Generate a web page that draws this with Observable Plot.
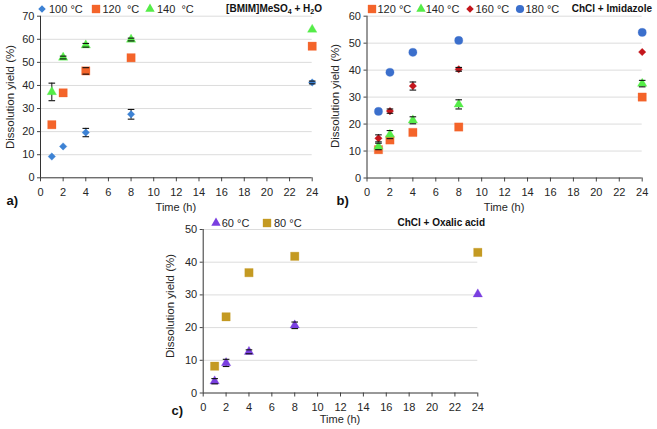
<!DOCTYPE html>
<html><head><meta charset="utf-8">
<script src="https://cdn.jsdelivr.net/npm/d3@7"></script>
<script src="https://cdn.jsdelivr.net/npm/@observablehq/plot@0.6"></script>
<style>
body{margin:0;background:#fff;}
#wrap{position:relative;width:657px;height:429px;font-family:"Liberation Sans",Arial,sans-serif;color:#262626;overflow:hidden;background:#fff}
#wrap div{position:absolute;white-space:nowrap}
.leg{font-size:11px;line-height:14px}
.ttl{font-size:10px;font-weight:bold;line-height:14px;color:#111}
.xl{font-size:11px;line-height:11px;transform:translateX(-50%)}
.yl{font-size:11.5px;line-height:13px;transform:translate(-50%,-50%) rotate(-90deg)}
.pl{font-size:13px;font-weight:bold;line-height:15px;color:#111}
sub{font-size:7px;vertical-align:-2px;line-height:0}
</style></head><body><div id="wrap"></div>
<script>
// ---------- data ----------
const hours = [1, 2, 4, 8, 24];
const xTickValues = [0, 2, 4, 6, 8, 10, 12, 14, 16, 18, 20, 22, 24];

// a) [BMIM]MeSO4 + H2O
const aLabels = ["100 °C", "120\u00a0\u00a0°C", "140\u00a0\u00a0°C"];
const aY100 = [9.2, 13.6, 19.6, 27.5, 41.3];
const aE100 = [0, 0, 1.8, 2.1, 0.6];
const aY120 = [23.0, 36.8, 46.3, 52.0, 57.0];
const aE120 = [0, 0, 1.4, 0, 0];
const aY140 = [37.2, 52.1, 57.4, 59.9, 64.2];
const aE140 = [3.8, 0.6, 0.8, 0.6, 0];
const aYTicks = [0, 10, 20, 30, 40, 50, 60, 70];

// b) ChCl + Imidazole
const bLabels = ["120 °C", "140 °C", "160 °C", "180 °C"];
const bY120 = [10.5, 14.1, 16.9, 18.9, 30.0];
const bE120 = [0, 0, 0, 0, 0];
const bY140 = [11.7, 16.1, 21.4, 27.3, 35.0];
const bE140 = [1.2, 1.5, 1.3, 1.7, 1.2];
const bY160 = [14.7, 24.8, 34.1, 40.3, 46.7];
const bE160 = [1.3, 0.8, 1.5, 0.7, 0];
const bY180 = [24.7, 39.2, 46.6, 51.0, 54.0];
const bE180 = [0, 0, 0, 0, 0];
const bYTicks = [0, 10, 20, 30, 40, 50, 60];

// c) ChCl + Oxalic acid
const cLabels = ["60 °C", "80 °C"];
const cY60 = [3.6, 9.2, 12.6, 20.7, 30.2];
const cE60 = [0.8, 1.1, 0.6, 1.0, 0];
const cY80 = [8.2, 23.3, 36.8, 41.8, 43.0];
const cE80 = [0, 0, 0, 0, 0];
const cYTicks = [0, 10, 20, 30, 40, 50];

// ---------- styles ----------
const C = {blue:"#3d82d4", orange:"#f4642a", green:"#55ec48", red:"#c4161c", navy:"#3b6fcc", purple:"#7a3fe0", gold:"#c49a22"};
const S = {diamond:{sym:"diamond2", r:3.4}, square:{sym:"square", r:4.7}, triangle:{sym:"triangle", r:3.5}, circle:{sym:"circle", r:4.1}};
const d3sym = {diamond2:d3.symbolDiamond2, square:d3.symbolSquare, triangle:d3.symbolTriangle, circle:d3.symbolCircle};
const cap = {draw(ctx, size){const r = Math.sqrt(size/Math.PI); ctx.moveTo(-r,0); ctx.lineTo(r,0);}};

const wrap = document.getElementById("wrap");

function rowsOf(series){
  return series.map(s => hours.map((t,i) => ({t, v:s.values[i], e:s.errs[i], key:s.label})));
}

function panel(cfg){
  const data = rowsOf(cfg.series);
  const errs = data.flat().filter(d => d.e > 0);
  const marks = [
    Plot.gridY({ticks: cfg.yTicks.filter(v => v > 0), stroke:"#dcdcdc", strokeOpacity:1}),
    Plot.axisY({ticks: cfg.yTicks, tickSize:3, tickPadding:3, label:null, stroke:"#444", fontSize:11}),
    Plot.axisX({ticks: xTickValues, tickSize:4, tickPadding:6.5, label:null, stroke:"#444", fontSize:11}),
    Plot.ruleX([0], {stroke:"#333"}),
    Plot.ruleY([0], {stroke:"#333"}),
    Plot.ruleX(errs, {x:"t", y1:d => d.v - d.e, y2:d => d.v + d.e, stroke:"#111", strokeWidth:1}),
    ...cfg.series.map((s,k) => Plot.dot(data[k], {x:"t", y:"v", symbol:S[s.shape].sym, r:S[s.shape].r, fill:s.color, stroke:s.color, strokeOpacity:0.35, strokeWidth:0.8})),
    Plot.dot(errs, {x:"t", y:d => d.v - d.e, symbol:cap, r:3.3, stroke:"#111", strokeWidth:1.1}),
    Plot.dot(errs, {x:"t", y:d => d.v + d.e, symbol:cap, r:3.3, stroke:"#111", strokeWidth:1.1})
  ];
  const svg = Plot.plot({
    width: cfg.w, height: cfg.h,
    marginLeft: cfg.mL, marginRight: cfg.mR, marginTop: cfg.mT, marginBottom: cfg.mB,
    x: {domain:[0,24]},
    y: {domain:[0, cfg.yTicks[cfg.yTicks.length-1]]},
    style: {fontFamily:'"Liberation Sans", Arial, sans-serif', fontSize:"11px", color:"#262626", background:"transparent", overflow:"visible"},
    marks
  });
  svg.style.position = "absolute";
  svg.style.left = cfg.left + "px";
  svg.style.top = cfg.top + "px";
  wrap.append(svg);

  // legend (layout positions only)
  cfg.series.forEach((s,k) => {
    const g = document.createElementNS("http://www.w3.org/2000/svg","svg");
    g.setAttribute("width",12); g.setAttribute("height",12);
    const p = document.createElementNS("http://www.w3.org/2000/svg","path");
    const sh = S[s.shape];
    p.setAttribute("d", d3.symbol(d3sym[sh.sym], sh.r*sh.r*Math.PI)());
    p.setAttribute("transform","translate(6,6)");
    p.setAttribute("fill", s.color);
    g.append(p);
    const gd = document.createElement("div");
    gd.style.left = (cfg.legX[k][0] - 6) + "px"; gd.style.top = (cfg.legY - 6) + "px";
    gd.style.lineHeight = "0";
    gd.append(g); wrap.append(gd);
    const td = document.createElement("div");
    td.className = "leg"; td.textContent = s.label;
    td.style.left = cfg.legX[k][1] + "px"; td.style.top = (cfg.legY - 7) + "px";
    wrap.append(td);
  });
  const t = document.createElement("div");
  t.className = "ttl"; t.innerHTML = cfg.title;
  t.style.right = (657 - cfg.titleRight) + "px"; t.style.top = (cfg.legY - 7) + "px";
  wrap.append(t);

  const xl = document.createElement("div");
  xl.className = "xl"; xl.textContent = "Time (h)";
  xl.style.left = (cfg.left + cfg.mL + (cfg.w - cfg.mL - cfg.mR)/2) + "px";
  xl.style.top = cfg.xlTop + "px";
  wrap.append(xl);

  const yl = document.createElement("div");
  yl.className = "yl"; yl.textContent = "Dissolution yield (%)";
  yl.style.left = cfg.ylX + "px"; yl.style.top = cfg.ylY + "px";
  wrap.append(yl);

  const pl = document.createElement("div");
  pl.className = "pl"; pl.textContent = cfg.tag;
  pl.style.left = cfg.tagX + "px"; pl.style.top = cfg.tagY + "px";
  wrap.append(pl);
}

panel({
  left:0, top:0, w:330, h:215, mL:40, mR:18.3, mT:15.7, mB:37.7,
  yTicks:aYTicks,
  series:[
    {label:aLabels[0], values:aY100, errs:aE100, color:C.blue, shape:"diamond"},
    {label:aLabels[1], values:aY120, errs:aE120, color:C.orange, shape:"square"},
    {label:aLabels[2], values:aY140, errs:aE140, color:C.green, shape:"triangle"}
  ],
  legY:9, legX:[[42,49],[96,102.5],[150,157]],
  title:"[BMIM]MeSO<sub>4</sub> + H<sub>2</sub>O", titleRight:322,
  xlTop:201.5, ylX:9.5, ylY:97, tag:"a)", tagX:6.5, tagY:193
});

panel({
  left:330, top:0, w:327, h:215, mL:36.5, mR:15.3, mT:15.7, mB:37.5,
  yTicks:bYTicks,
  series:[
    {label:bLabels[0], values:bY120, errs:bE120, color:C.orange, shape:"square"},
    {label:bLabels[1], values:bY140, errs:bE140, color:C.green, shape:"triangle"},
    {label:bLabels[2], values:bY160, errs:bE160, color:C.red, shape:"diamond"},
    {label:bLabels[3], values:bY180, errs:bE180, color:C.navy, shape:"circle"}
  ],
  legY:9, legX:[[372.3,377.5],[420.7,425.7],[470,475.5],[520,525.5]],
  title:"ChCl + Imidazole", titleRight:652,
  xlTop:201.5, ylX:335, ylY:96, tag:"b)", tagX:336.5, tagY:193
});

panel({
  left:160, top:210, w:340, h:219, mL:42.7, mR:22.7, mT:19, mB:36.5,
  yTicks:cYTicks,
  series:[
    {label:cLabels[0], values:cY60, errs:cE60, color:C.purple, shape:"triangle"},
    {label:cLabels[1], values:cY80, errs:cE80, color:C.gold, shape:"square"}
  ],
  legY:222.7, legX:[[216,221.7],[267.3,274]],
  title:"ChCl + Oxalic acid", titleRight:485,
  xlTop:413.5, ylX:170, ylY:306, tag:"c)", tagX:171.5, tagY:403
});
</script>
</body></html>
